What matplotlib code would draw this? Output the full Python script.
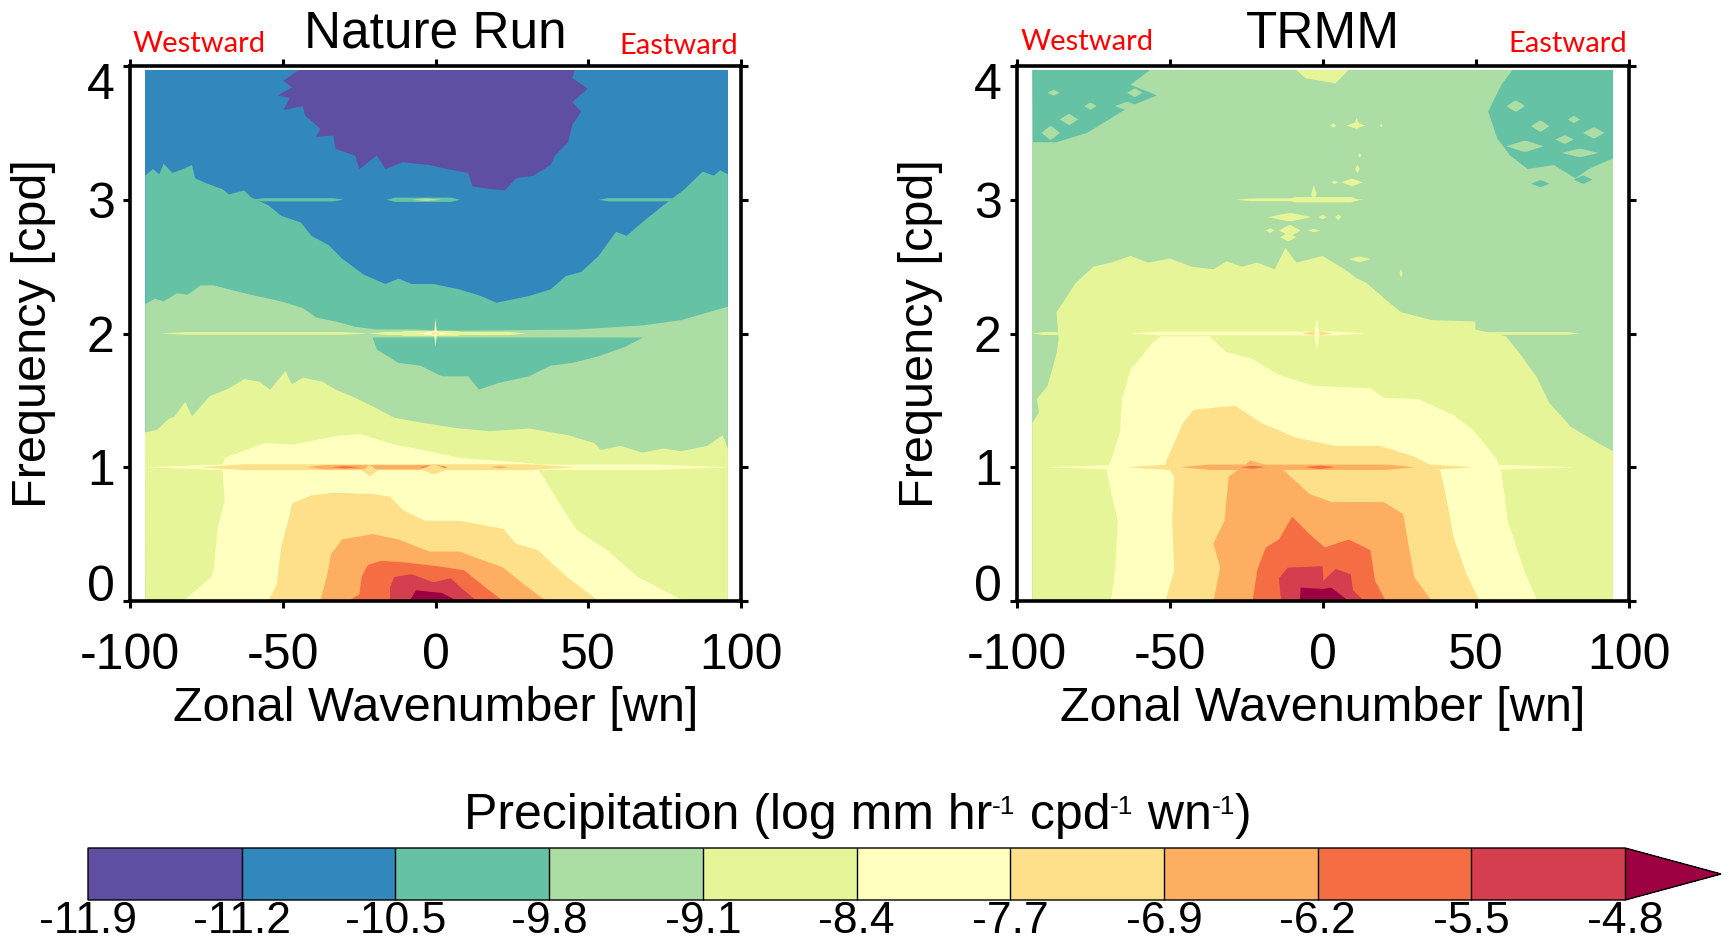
import matplotlib
matplotlib.use("Agg")
import matplotlib.pyplot as plt
from matplotlib.cm import ScalarMappable
from matplotlib.colors import BoundaryNorm, ListedColormap
from matplotlib.transforms import ScaledTranslation

plt.rcParams['font.family'] = ['Liberation Sans', 'DejaVu Sans']
plt.rcParams['axes.unicode_minus'] = False

W, H = 1729, 942

# colour levels
levels = [-11.9, -11.2, -10.5, -9.8, -9.1, -8.4, -7.7, -6.9, -6.2, -5.5, -4.8]
level_labels = ['-11.9', '-11.2', '-10.5', '-9.8', '-9.1', '-8.4', '-7.7', '-6.9', '-6.2', '-5.5', '-4.8']
colores = ['#5e4fa2', '#3288bd', '#66c2a5', '#abdda4', '#e6f598', '#ffffbf',
           '#fee08b', '#fdae61', '#f46d43', '#d53e4f', '#9e0142']

# Nature Run: contour outlines (wavenumber, frequency)
nr_purple_wn = [-44.8, -49.8, -47, -51.7, -47.7, -49.8, -43.4, -42.7, -37.7, -39.1, -33.5, -32.7, -26.3, -24.9, -19.2,
                -16.4, -10.7, -2.1, 3.6, 10.7, 12.1, 17.8, 22.8, 26.3, 32, 37.7, 39.1, 43.4, 44.8, 47.7, 44.8, 49.8, 44.8, 45.5]
nr_purple_f = [3.97, 3.89, 3.84, 3.78, 3.76, 3.67, 3.7, 3.63, 3.53, 3.47, 3.48, 3.38, 3.33, 3.23, 3.33,
               3.23, 3.28, 3.26, 3.23, 3.2, 3.1, 3.08, 3.07, 3.16, 3.18, 3.26, 3.33, 3.43, 3.56, 3.66, 3.73, 3.83, 3.91, 3.97]
nr_teal_wn = [-95, -95, -92.5, -90.4, -89, -86.1, -82.6, -79.7, -78.7, -74.7, -69.8, -67.6, -62.6, -60.5, -54.8, -50.5,
              -44.1, -40.6, -34.9, -30.6, -23.5, -16.4, -12.1, -7.8, -0.7, 7.8, 14.9, 19.9, 30.6, 37.7, 42.7, 47.7,
              53.4, 59.1, 62.6, 67.6, 74.7, 81.1, 87.5, 91.1, 93.2, 95.7, 95.7]
nr_teal_f = [0, 3.18, 3.23, 3.19, 3.27, 3.2, 3.23, 3.26, 3.16, 3.12, 3.08, 3.04, 3.07, 3.02, 2.96, 2.88,
             2.83, 2.73, 2.66, 2.56, 2.44, 2.37, 2.41, 2.37, 2.37, 2.33, 2.28, 2.23, 2.28, 2.33, 2.43, 2.46,
             2.58, 2.76, 2.73, 2.83, 2.96, 3.07, 3.21, 3.18, 3.22, 3.19, 0]
nr_green_wn = [-95, -95, -91.8, -89, -84.7, -81.1, -76.9, -72.6, -67.6, -60.5, -50.5, -43.4, -39.1, -32.7, -26.3, -19.2,
               -7.8, 7.8, 46.3, 67.6, 80.4, 95.7, 95.7]
nr_green_f = [0, 2.22, 2.26, 2.24, 2.3, 2.29, 2.36, 2.36, 2.33, 2.29, 2.24, 2.19, 2.12, 2.09, 2.05, 2.03,
              2.03, 2.02, 2.03, 2.06, 2.1, 2.2, 0]
nr_patch_wn = [-20.6, -19.2, -12.1, -5, 2.1, 10.7, 14.2, 20.6, 30.6, 37.7, 44.8, 53.4, 62, 68]
nr_patch_f = [1.97, 1.88, 1.78, 1.76, 1.68, 1.68, 1.58, 1.63, 1.68, 1.76, 1.78, 1.83, 1.9, 1.97]
nr_yg_wn = [-95, -95.1, -91.1, -87.5, -85.4, -81.9, -79.7, -74, -67.6, -62.6, -57.7, -54.1, -49.1, -47, -43.4, -37,
            -32.7, -26.3, -19.2, -13.5, -3.6, 7.8, 17.8, 30.6, 43.4, 52, 54.1, 60.5, 67.6, 74.7, 80.4, 89, 94, 95.7, 95.7]
nr_yg_f = [0, 1.26, 1.28, 1.36, 1.38, 1.49, 1.38, 1.53, 1.59, 1.66, 1.64, 1.58, 1.72, 1.62, 1.67, 1.64,
           1.58, 1.52, 1.44, 1.37, 1.33, 1.29, 1.27, 1.29, 1.24, 1.18, 1.13, 1.16, 1.11, 1.14, 1.12, 1.16, 1.24, 1.14, 0]
nr_pale_wn = [-69, -56.2, -46.3, -33.5, -24.9, -13.5, -2.1, 7.8, 32, 33.5, 34.9, 40.6, 46.3, 56.2, 66.2, 74.7, 81.1,
              -82.6, -73.3, -72.6, -71.2, -69, -69.8]
nr_pale_f = [1.07, 1.18, 1.17, 1.23, 1.25, 1.17, 1.12, 1.07, 1.03, 0.99, 0.94, 0.73, 0.53, 0.38, 0.18, 0.08, 0,
             0, 0.18, 0.25, 0.56, 0.75, 0.99]
nr_lorange_wn = [-54.8, -52, -50.5, -47.7, -47, -40.6, -33.5, -20.6, -14.9, -10.7, -3.6, 7.8, 22.1, 26.3, 33.5, 42, 50.5, 53.4]
nr_lorange_f = [0, 0.12, 0.4, 0.65, 0.73, 0.79, 0.81, 0.8, 0.78, 0.68, 0.6, 0.6, 0.54, 0.43, 0.38, 0.2, 0.05, 0]
nr_orange_wn = [-37.7, -35.6, -34.2, -30.6, -20.6, -12.1, -2.1, 7.8, 14.9, 22.1, 29.2, 36.3]
nr_orange_f = [0, 0.18, 0.35, 0.46, 0.5, 0.46, 0.37, 0.37, 0.31, 0.25, 0.12, 0]
nr_dorange_wn = [-28.5, -24.9, -24.2, -22.1, -17.8, -10.7, 0.7, 9.3, 16.4, 22.1]
nr_dorange_f = [0, 0.05, 0.18, 0.27, 0.3, 0.29, 0.26, 0.23, 0.1, 0]
nr_red_wn = [-14.9, -14.9, -13.5, -7.8, -0.7, 5, 7.8, 13.5]
nr_red_f = [0, 0.1, 0.18, 0.2, 0.14, 0.17, 0.11, 0]
nr_crimson_wn = [-8.5, -6.4, 2.1, 7.1]
nr_crimson_f = [0, 0.08, 0.06, 0]

# spectral peaks: frequency, wn from, wn to, half width, colour index
nr_peaks = [
    (3, -60, -30, 0.012, 2), (3, -16, 8, 0.016, 2), (3, -8, 2, 0.01, 3), (3, 53.4, 80, 0.012, 2),
    (2, -93, 92, 0.016, 3), (2, -90, -22, 0.01, 4), (2, -22, 30, 0.012, 4), (2, -13, 10, 0.018, 4), (2, -6, 5, 0.014, 5),
    (2, -1.5, 1.5, 0.01, 6), (2, -0.6, 0.6, 0.012, 8),
    (1, -95, 96, 0.02, 5), (1, -77, 45, 0.022, 6), (1, -42, 3.5, 0.016, 7), (1, -5, 4, 0.018, 8),
    (1, -34, -25, 0.008, 8), (0.985, -5, 4, 0.035, 6), (0.975, -24, -19, 0.04, 6), (1, 18, 24, 0.008, 7),
]
nr_spikes = [(0, 1.9, 2.11, 0.45, 5)]

# TRMM outlines
tr_teal_l_wn = [-95, -56.5, -62.9, -54.3, -62.9, -71.4, -77.1, -87.1, -94.8]
tr_teal_l_f = [3.97, 3.97, 3.86, 3.78, 3.7, 3.58, 3.5, 3.43, 3.43]
tr_teal_r_wn = [61.9, 58.3, 54, 56.9, 61.2, 66.9, 75.4, 82.5, 86.8, 94.8, 94.8]
tr_teal_r_f = [3.97, 3.86, 3.66, 3.46, 3.33, 3.23, 3.26, 3.16, 3.23, 3.31, 3.97]
tr_top_wn = [-8.7, -5.8, 4.1, 8.4]
tr_top_f = [3.97, 3.91, 3.87, 3.97]
tr_yg_wn = [-95, -95, -92.8, -93.5, -90, -88.5, -87, -86.4, -87.1, -80.7, -75, -69.3, -62.9, -57.2, -50, -42.9, -35.8,
            -31.5, -26.5, -21.5, -15.8, -12.3, -8.7, -0.1, 7, 11.3, 14.1, 21.2, 25.5, 35.5, 49.8, 49.8,
            59.7, 64, 69.7, 74, 81.1, 90, 94.8, 94.8]
tr_yg_f = [0, 1.33, 1.41, 1.51, 1.61, 1.73, 1.86, 1.96, 2.16, 2.38, 2.5, 2.53, 2.58, 2.53, 2.56, 2.5, 2.48,
           2.54, 2.5, 2.53, 2.48, 2.64, 2.53, 2.58, 2.48, 2.41, 2.38, 2.24, 2.16, 2.1, 2.09, 2.03,
           1.98, 1.86, 1.68, 1.48, 1.3, 1.18, 1.12, 0]
tr_pale_wn = [-69.3, -67.9, -67.1, -70.7, -68.6, -66.4, -65.7, -62.9, -55.7, -52.9, -37.2, -31.5, -23, -14.4, -3,
              15.5, 19.8, 31.2, 42.6, 49, 52.6, 56.9, 58.3, 60.4, 65.4, 70]
tr_pale_f = [0, 0.23, 0.6, 0.96, 1.1, 1.26, 1.51, 1.73, 1.93, 1.98, 1.98, 1.86, 1.81, 1.69, 1.61,
             1.59, 1.52, 1.51, 1.39, 1.28, 1.18, 1.06, 0.96, 0.6, 0.25, 0]
tr_lorange_wn = [-51.5, -48.6, -49.3, -48.6, -51.5, -45.8, -42.2, -28.7, -20.1, -8.7, 4.1, 18.4, 29.8, 38.3, 40.5, 42.6, 46.9, 51.2]
tr_lorange_f = [0, 0.23, 0.6, 0.93, 1.03, 1.33, 1.43, 1.46, 1.33, 1.22, 1.16, 1.16, 1.08, 0.98, 0.75, 0.48, 0.2, 0]
tr_orange_wn = [-35.8, -33.6, -35.8, -32.2, -30.8, -23.7, -13, -4.4, 2.7, 19.8, 26.2, 27.7, 29.8, 35.5]
tr_orange_f = [0, 0.25, 0.43, 0.6, 0.93, 1.05, 0.98, 0.8, 0.74, 0.74, 0.65, 0.45, 0.18, 0]
tr_dorange_wn = [-23, -21.5, -18.7, -14.4, -10.1, -4.4, 0.6, 8.4, 15.5, 17, 20.5]
tr_dorange_f = [0, 0.23, 0.4, 0.46, 0.63, 0.5, 0.4, 0.46, 0.38, 0.15, 0]
tr_red_wn = [-13.7, -14.4, -11.5, -0.1, 0.1, 4.1, 9.1, 9.8, 13.4]
tr_red_f = [0, 0.17, 0.25, 0.26, 0.15, 0.24, 0.2, 0.08, 0]
tr_crimson_wn = [-7.6, -7.3, -0.1, 2.7, 8.4]
tr_crimson_f = [0, 0.1, 0.09, 0.1, 0]

tr_peaks = [
    (3.6, -86, -80, 0.04, 3), (3.55, -70, -64, 0.04, 3), (3.7, -68, -60, 0.03, 3), (3.8, -64, -59, 0.03, 3),
    (3.5, -92, -86, 0.05, 3), (3.8, -90, -86, 0.02, 3), (3.7, -78, -74, 0.025, 3),
    (3.55, 68, 74, 0.04, 3), (3.4, 60, 72, 0.04, 3), (3.35, 78, 90, 0.03, 3), (3.7, 60, 66, 0.04, 3),
    (3.5, 85, 92, 0.04, 3), (3.6, 80, 84, 0.025, 3), (3.45, 76, 82, 0.03, 3),
    (3.12, 68, 74, 0.025, 2), (3.15, 82, 88, 0.03, 2),
    (3.555, 2.4, 4.4, 0.015, 4), (3.555, 7.7, 13.8, 0.022, 4), (3.555, 18.6, 19.5, 0.01, 4),
    (3.33, 11.4, 12.6, 0.015, 4), (3.23, 10.5, 12, 0.03, 4), (3.13, 2.7, 5, 0.012, 4), (3.13, 6, 13, 0.026, 4),
    (3, -28.7, 13.4, 0.01, 4), (3, -12, 12, 0.02, 4),
    (2.87, -18, -3.7, 0.03, 4), (2.87, -1.5, 1.3, 0.015, 4), (2.87, 4, 6, 0.02, 4),
    (2.77, -14.4, -7.3, 0.04, 4), (2.77, -5, -1, 0.012, 4), (2.77, -18.7, -15.8, 0.016, 4), (2.72, -14, -8.7, 0.03, 4),
    (2.555, 8.4, 15.5, 0.02, 4), (2.45, 25, 26, 0.03, 4),
    (2, -95, -62, 0.012, 4), (2, 50, 84, 0.01, 4),
    (2, -63, 14, 0.014, 5), (2, -7, 3, 0.018, 6), (2, -2.6, -1.4, 0.012, 8),
    (1, -91, 82.5, 0.016, 5), (1, -64.3, 49, 0.02, 6), (1, -46.5, 30, 0.02, 7),
    (1, -27, -19, 0.01, 8), (1, -6, 4, 0.012, 8),
]
tr_spikes = [(-2, 1.87, 2.11, 0.9, 5), (-3, 2.98, 3.11, 0.9, 4), (11, 3.52, 3.61, 0.8, 4)]

nature_run = [
    (nr_teal_wn, nr_teal_f, 2), (nr_purple_wn, nr_purple_f, 0), (nr_green_wn, nr_green_f, 3),
    (nr_patch_wn, nr_patch_f, 2), (nr_yg_wn, nr_yg_f, 4), (nr_pale_wn, nr_pale_f, 5),
    (nr_lorange_wn, nr_lorange_f, 6), (nr_orange_wn, nr_orange_f, 7), (nr_dorange_wn, nr_dorange_f, 8),
    (nr_red_wn, nr_red_f, 9), (nr_crimson_wn, nr_crimson_f, 10),
]
trmm = [
    (tr_teal_l_wn, tr_teal_l_f, 2), (tr_teal_r_wn, tr_teal_r_f, 2), (tr_top_wn, tr_top_f, 4), (tr_yg_wn, tr_yg_f, 4),
    (tr_pale_wn, tr_pale_f, 5), (tr_lorange_wn, tr_lorange_f, 6), (tr_orange_wn, tr_orange_f, 7),
    (tr_dorange_wn, tr_dorange_f, 8), (tr_red_wn, tr_red_f, 9), (tr_crimson_wn, tr_crimson_f, 10),
]


def panel(x0, x1, titulo, fondo, borde, bandas, picos, spikes):
    ax = fig.add_axes([x0 / W, 1 - 601 / H, (x1 - x0) / W, (601 - 66) / H])
    ax.fill([-95, borde, borde, -95], [0, 0, 3.97, 3.97], color=colores[fondo], lw=0)
    for wn, f, c in bandas:
        ax.fill(wn, f, color=colores[c], lw=0)
    # long ridges keep their width until close to the ends, short specks are diamonds
    for f, a, b, h, c in picos:
        t = (b - a) * (0.12 if b - a > 20 else 0.45)
        ax.fill([a, a + t, b - t, b, b - t, a + t], [f, f + h, f + h, f, f - h, f - h], color=colores[c], lw=0)
    for x, a, b, h, c in spikes:
        m = (a + b) / 2
        ax.fill([x, x + h, x, x - h], [a, m, b, m], color=colores[c], lw=0)

    ax.set_xlim(-100, 100)
    ax.set_ylim(0, 4)
    ax.set_xticks([-100, -50, 0, 50, 100])
    ax.set_yticks([0, 1, 2, 3, 4])
    ax.tick_params(top=True, right=True, direction='out', length=5, width=2.2, labelsize=36, pad=18)
    ax.tick_params(axis='y', pad=6)
    labels = ax.get_yticklabels()
    labels[0].set_va('baseline')
    labels[-1].set_va('top')
    labels[-1].set_transform(labels[-1].get_transform() + ScaledTranslation(0, 0.03, fig.dpi_scale_trans))
    for s in ax.spines.values():
        s.set_linewidth(2.6)
    ax.set_xlabel("Zonal Wavenumber [wn]", fontsize=35, labelpad=5)
    ax.set_ylabel("Frequency [cpd]", fontsize=35, labelpad=22)
    ax.set_title(titulo, fontsize=37, pad=13)
    return ax


fig = plt.figure(figsize=(W / 100, H / 100), dpi=100)
panel(130, 741, "Nature Run", 1, 95.7, nature_run, nr_peaks, nr_spikes)
panel(1017, 1629, "TRMM", 3, 94.8, trmm, tr_peaks, tr_spikes)

for px, py, txt in [(199, 44, "Westward"), (679, 46, "Eastward"), (1087, 42, "Westward"), (1568, 44, "Eastward")]:
    fig.text(px / W, 1 - py / H, txt, color='red', fontsize=21, family='Lato', ha='center', va='center')

# barra de color
cax = fig.add_axes([88 / W, 1 - 900 / H, (1721 - 88) / W, 52 / H])
cmap = ListedColormap(colores[:10])
cmap.set_over(colores[10])
norm = BoundaryNorm(levels, cmap.N)
cb = fig.colorbar(ScalarMappable(norm=norm, cmap=cmap), cax=cax, orientation='horizontal', extend='max',
                  extendfrac=0.0624, spacing='uniform', ticks=levels, drawedges=True)
cb.ax.set_xticklabels(level_labels)
cb.ax.tick_params(length=0, labelsize=32, pad=1)
cb.dividers.set_linewidth(1)
cb.outline.set_linewidth(1)

# título de la barra, con exponentes pequeños
renderer = fig.canvas.get_renderer()
x = 464
for trozo, exponente in [("Precipitation (log mm hr", False), ("-1", True), (" cpd", False), ("-1", True),
                         (" wn", False), ("-1", True), (")", False)]:
    y = 814 if exponente else 829
    t = fig.text(x / W, 1 - y / H, trozo, fontsize=19 if exponente else 36, ha='left', va='baseline')
    x = t.get_window_extent(renderer).x1

fig.savefig("out.png", dpi=100)
